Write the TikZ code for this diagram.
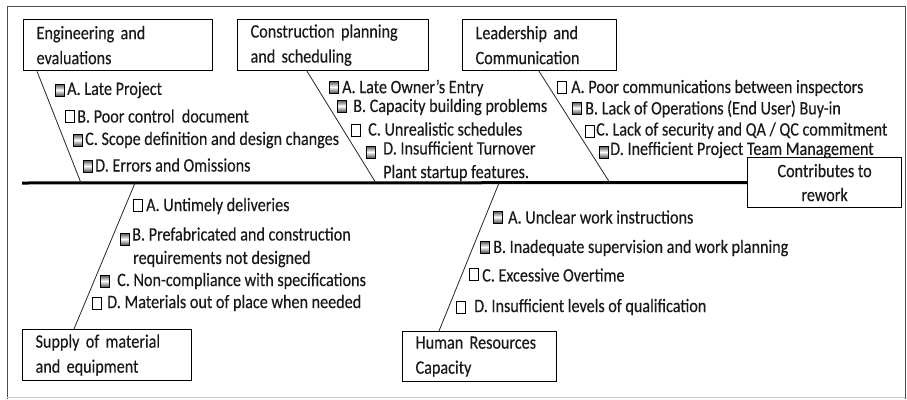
\documentclass[tikz,border=0pt]{standalone}
\usepackage{fontspec}
\setmainfont{Carlito}[FakeStretch=0.85,FakeBold=0.3]
\begin{document}
\begin{tikzpicture}[x=1pt,y=-1pt,
  every node/.style={font=\fontsize{19}{25}\selectfont, text=black!90},
  title/.style={draw=black, line width=1.2pt, anchor=north west, inner xsep=13pt, inner ysep=0pt, align=left},
  chk/.style={draw=black, line width=0.9pt, minimum width=9pt, minimum height=12pt, inner sep=0pt, fill=white},
  chkf/.style={chk, top color=black!70, bottom color=black!70, middle color=white},
  itm/.style={anchor=west, inner sep=0pt},
  bone/.style={draw=black!85, line width=0.8pt}]
\useasboundingbox (0,0) rectangle (907,399);
% frame
\draw[black!70, line width=1pt] (7,399) -- (7,6) -- (905,6) -- (905,399);
\draw[black!20, line width=1pt] (7,397.5) -- (905,397.5);

% category boxes
\node[title, minimum width=189pt, minimum height=51pt, text width=163pt] (eng) at (23,19) {Engineering and\\evaluations};
\node[title, minimum width=191pt, minimum height=51pt, text width=165pt] (con) at (237,19) {Construction planning\\and scheduling};
\node[title, minimum width=154pt, minimum height=51pt, text width=128pt] (lead) at (462,19) {Leadership and\\Communication};
\node[title, minimum width=169pt, minimum height=51pt, text width=143pt] (sup) at (22,329) {Supply of material\\and equipment};
\node[title, minimum width=154pt, minimum height=50pt, text width=128pt] (hum) at (402,331) {Human Resources\\Capacity};
\node[draw=black, line width=1.2pt, anchor=north west, minimum width=154pt, minimum height=50pt, align=center, inner sep=0pt, font=\fontsize{19}{24}\selectfont] (eff) at (747,157) {Contributes to\\rework};

% spine
\coordinate (tail) at (22,183);
\draw[black, line width=3pt] (tail) -- (eff.west);

% bone ends on spine
\coordinate (pe) at (81,183);
\coordinate (pc) at (376,183);
\coordinate (pl) at (610,183);
\coordinate (ps) at (135,183);
\coordinate (ph) at (499,183);
\draw[bone] ([xshift=14pt]eng.south west) -- (pe);
\draw[bone] ([xshift=70pt]con.south west) -- (pc);
\draw[bone] ([xshift=77pt]lead.south west) -- (pl);
\draw[bone] ([xshift=52pt]sup.north west) -- (ps);
\draw[bone] ([xshift=37pt]hum.north west) -- (ph);

% Engineering items
\node[chkf] (e1b) at (59.5,90) {};  \node[itm] (e1) at (67,90) {A. Late Project};
\node[chk]  (e2b) at (70,116) {};   \node[itm] (e2) at (77,116) {B. Poor control\ \ document};
\node[chkf] (e3b) at (78,140) {};   \node[itm] (e3) at (85,140) {C. Scope definition and design changes};
\node[chkf] (e4b) at (88,166) {};   \node[itm] (e4) at (95,165) {D. Errors and Omissions};

% Construction items
\node[chkf] (c1b) at (334,87) {};  \node[itm] (c1) at (342,88) {A. Late Owner's Entry};
\node[chkf] (c2b) at (342,106) {}; \node[itm] (c2) at (353,107) {B. Capacity building problems};
\node[chk]  (c3b) at (356,130) {}; \node[itm] (c3) at (368,129) {C. Unrealistic schedules};
\node[chkf] (c4b) at (371,152) {}; \node[itm] (c4) at (383,148) {D. Insufficient Turnover};
\node[itm] (c4x) at (383,173) {Plant startup features.};

% Leadership items
\node[chk]  (l1b) at (562,87) {};  \node[itm] (l1) at (571,88) {A. Poor communications between inspectors};
\node[chkf] (l2b) at (577,108) {}; \node[itm] (l2) at (585,109) {B. Lack of Operations (End User) Buy-in};
\node[chk]  (l3b) at (590,131) {}; \node[itm] (l3) at (596,130.5) {C. Lack of security and QA / QC commitment};
\node[chkf] (l4b) at (604,152) {}; \node[itm] (l4) at (610,150) {D. Inefficient Project Team Management};

% Supply items
\node[chk]  (s1b) at (138,205) {}; \node[itm] (s1) at (146,206) {A. Untimely deliveries};
\node[chkf] (s2b) at (125,239) {}; \node[itm] (s2) at (132,234) {B. Prefabricated and construction};
\node[itm] (s2x) at (133,259) {requirements not designed};
\node[chkf] (s3b) at (105,281) {}; \node[itm] (s3) at (117,281) {C. Non-compliance with specifications};
\node[chk]  (s4b) at (97,303) {};  \node[itm] (s4) at (107,303) {D. Materials out of place when needed};

% Human resources items
\node[chkf] (h1b) at (498,217) {}; \node[itm] (h1) at (508,217) {A. Unclear work instructions};
\node[chkf] (h2b) at (485,247) {}; \node[itm] (h2) at (493,248) {B. Inadequate supervision and work planning};
\node[chk]  (h3b) at (474,274) {}; \node[itm] (h3) at (482,275) {C. Excessive Overtime};
\node[chk]  (h4b) at (461,307) {}; \node[itm] (h4) at (474,307) {D. Insufficient levels of qualification};
\end{tikzpicture}
\end{document}
